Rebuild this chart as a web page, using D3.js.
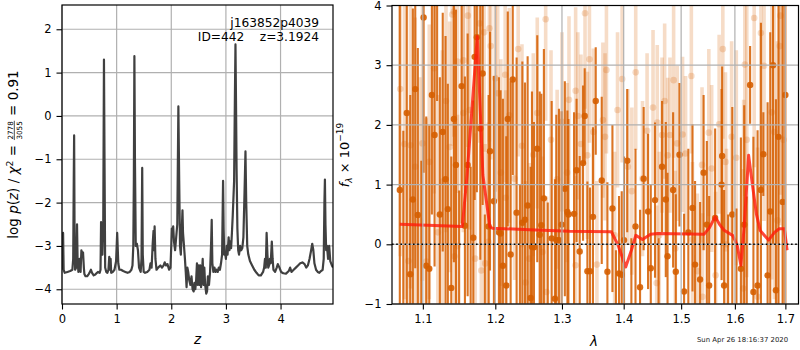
<!DOCTYPE html>
<html><head><meta charset="utf-8">
<script src="https://cdn.jsdelivr.net/npm/d3@7"></script>
<style>body{margin:0;background:#fff}svg{display:block}</style>
</head><body><svg id="c" width="800" height="350"></svg>
<script>
// ---------------- data ----------------
const zGrid = [
0.000,0.010,0.020,0.030,0.050,0.100,0.150,0.190,0.205,0.215,
0.222,0.230,0.240,0.260,0.275,0.285,0.300,0.320,0.340,0.355,
0.370,0.385,0.400,0.410,0.430,0.460,0.490,0.510,0.530,0.550,
0.580,0.610,0.640,0.660,0.690,0.705,0.715,0.725,0.740,0.755,
0.768,0.778,0.790,0.810,0.830,0.850,0.865,0.875,0.890,0.900,
0.930,0.960,0.990,1.010,1.030,1.050,1.080,1.120,1.160,1.200,
1.240,1.270,1.290,1.305,1.315,1.325,1.335,1.350,1.370,1.390,
1.410,1.440,1.455,1.468,1.478,1.495,1.520,1.560,1.600,1.620,
1.640,1.660,1.675,1.685,1.695,1.710,1.730,1.760,1.800,1.830,
1.860,1.880,1.905,1.930,1.960,1.985,2.000,2.010,2.020,2.035,
2.050,2.070,2.090,2.110,2.130,2.145,2.160,2.175,2.190,2.205,
2.215,2.230,2.250,2.265,2.280,2.295,2.310,2.330,2.350,2.370,
2.390,2.410,2.425,2.440,2.455,2.470,2.485,2.500,2.515,2.530,
2.545,2.560,2.575,2.590,2.605,2.620,2.640,2.655,2.670,2.690,
2.710,2.730,2.740,2.752,2.770,2.790,2.810,2.830,2.850,2.870,
2.890,2.910,2.930,2.948,2.958,2.970,2.985,3.000,3.015,3.030,
3.050,3.065,3.080,3.095,3.110,3.125,3.150,3.165,3.175,3.185,
3.195,3.210,3.225,3.240,3.260,3.280,3.300,3.320,3.340,3.358,
3.372,3.390,3.410,3.440,3.480,3.520,3.560,3.600,3.640,3.680,
3.700,3.715,3.730,3.745,3.760,3.775,3.790,3.805,3.820,3.840,
3.855,3.870,3.900,3.930,3.950,3.980,4.010,4.050,4.100,4.150,
4.175,4.200,4.240,4.280,4.320,4.360,4.400,4.440,4.470,4.500,
4.530,4.560,4.580,4.600,4.620,4.650,4.680,4.710,4.740,4.770,
4.790,4.803,4.812,4.822,4.835,4.850,4.870,4.890,4.910,4.940,
4.960];
const logPz = [
-3.55,-3.00,-2.70,-3.55,-3.62,-3.60,-3.58,-3.55,-3.30,-1.50,
-0.45,-2.80,-3.55,-3.50,-2.50,-3.30,-3.60,-3.30,-3.60,-3.10,
-3.20,-3.15,-3.50,-3.65,-3.70,-3.70,-3.65,-3.60,-3.55,-3.62,
-3.68,-3.66,-3.62,-3.60,-3.62,-3.55,-2.45,-3.10,-3.20,-2.50,
1.30,-1.00,-3.50,-3.60,-3.62,-3.55,-3.25,-3.55,-3.30,-3.62,
-3.60,-3.55,-3.35,-2.70,-3.40,-3.55,-3.55,-3.58,-3.60,-3.62,
-3.60,-3.55,-3.45,-3.00,-1.50,1.38,-1.00,-3.00,-2.95,-3.10,
-3.50,-3.60,-3.30,-1.20,-3.20,-3.60,-3.62,-3.60,-3.55,-3.40,
-3.50,-2.95,-2.65,-3.10,-2.55,-3.30,-3.55,-3.50,-3.45,-3.50,
-3.45,-3.38,-3.45,-3.42,-3.55,-3.50,-3.00,-2.60,-2.75,-2.55,
-2.90,-3.10,-2.80,-2.50,0.22,-1.50,-3.00,-3.20,-2.70,-2.18,
-2.70,-2.95,-3.30,-3.60,-3.95,-3.50,-3.60,-3.80,-3.90,-3.70,
-4.00,-4.05,-3.85,-4.00,-3.80,-3.40,-3.90,-3.45,-3.90,-3.45,
-3.95,-3.70,-3.30,-3.90,-3.50,-3.90,-4.10,-4.05,-3.70,-3.90,
-3.60,-2.90,-2.40,-3.40,-3.60,-3.50,-3.60,-3.55,-3.60,-3.50,
-3.55,-3.40,-3.20,-1.50,-2.60,-3.20,-3.15,-3.30,-3.00,-3.20,
-2.80,-3.10,-2.90,-3.05,-2.70,-2.30,-1.50,0.50,1.65,0.30,
-1.20,-2.60,-3.10,-3.20,-3.00,-3.10,-3.05,-2.80,-1.80,-0.82,
-2.00,-3.00,-3.20,-3.35,-3.45,-3.55,-3.62,-3.68,-3.68,-3.60,
-3.50,-3.30,-3.50,-2.70,-3.20,-3.50,-3.45,-3.30,-3.40,-2.90,
-3.30,-3.55,-3.60,-3.50,-3.42,-3.50,-3.60,-3.63,-3.64,-3.58,
-3.50,-3.60,-3.55,-3.50,-3.45,-3.40,-3.38,-3.42,-3.50,-3.45,
-3.30,-3.10,-2.95,-3.10,-3.40,-3.55,-3.60,-3.62,-3.58,-3.55,
-3.30,-2.00,-1.47,-2.50,-3.10,-3.00,-3.30,-3.00,-3.35,-3.45,
-3.50];

const darkWave = [
1.0700,1.0745,1.0790,1.0835,1.0869,1.0900,1.0934,1.0980,1.1010,1.1045,
1.1085,1.1120,1.1156,1.1190,1.1227,1.1266,1.1304,1.1335,1.1382,1.1418,
1.1446,1.1490,1.1524,1.1570,1.1608,1.1650,1.1687,1.1706,1.1737,1.1786,
1.1819,1.1850,1.1904,1.1924,1.1980,1.2052,1.2077,1.2110,1.2159,1.2181,
1.2223,1.2254,1.2311,1.2360,1.2396,1.2435,1.2475,1.2520,1.2540,1.2570,
1.2620,1.2657,1.2682,1.2721,1.2780,1.2840,1.2891,1.2912,1.2953,1.2995,
1.3045,1.3085,1.3101,1.3190,1.3230,1.3280,1.3333,1.3360,1.3403,1.3445,
1.3493,1.3538,1.3636,1.3729,1.3812,1.3870,1.3922,1.3967,1.4006,1.4060,
1.4130,1.4200,1.4278,1.4340,1.4416,1.4463,1.4537,1.4600,1.4660,1.4726,
1.4757,1.4856,1.4904,1.4970,1.5053,1.5130,1.5206,1.5253,1.5345,1.5410,
1.5470,1.5513,1.5625,1.5746,1.5757,1.5794,1.5870,1.5950,1.6030,1.6116,
1.6180,1.6230,1.6295,1.6360,1.6442,1.6508,1.6556,1.6641,1.6694,1.6750,
1.6808,1.6860,1.6945,1.7000];
const darkFlux = [
0.91,-1.6,2.2,-0.5,0.75,2.6,0.49,-1.4,3.8,-0.36,
-0.41,2.5,1.83,4.6,0.50,1.88,1.09,0.59,-0.73,2.10,
1.33,-1.3,2.65,0.31,1.33,-1.2,0.11,3.14,3.47,1.94,
2.86,-1.5,0.30,1.56,0.72,0.20,0.18,-0.36,-0.69,2.10,
-0.17,2.76,0.53,-1.4,0.36,0.41,0.65,-0.90,-0.04,-0.05,
1.6,0.16,0.32,0.77,-1.3,0.10,-0.91,0.07,0.07,0.33,
0.93,0.54,0.50,0.51,1.24,-0.12,1.36,2.15,-0.45,-0.45,
0.46,2.40,1.07,-0.46,0.60,-1.3,-0.49,-0.51,0.07,1.4,
-1.2,0.30,-0.72,1.10,0.55,-0.40,0.74,-1.1,1.30,0.75,
-0.20,0.91,-0.46,1.50,-0.79,0.20,0.61,-0.34,-0.59,1.20,
0.33,-0.69,0.44,1.00,1.48,-0.69,-1.2,0.50,-1.4,-0.41,
0.33,-1.6,2.67,-0.8,-0.69,0.91,1.51,-0.52,0.55,3.0,
-0.77,1.8,0.71,2.5];
const darkErr = [
3.6,3.5,3.4,3.0,3.2,3.0,2.8,2.8,2.6,2.5,
2.4,2.0,2.2,2.2,2.3,2.0,2.4,2.1,2.2,2.4,
2.6,2.2,2.3,2.5,2.2,2.5,2.3,2.4,2.6,2.2,
2.2,2.0,2.2,2.0,2.1,2.6,2.4,2.8,2.5,1.8,
2.9,1.6,2.6,2.4,2.7,2.3,2.5,2.2,2.6,2.1,
1.9,2.4,2.2,2.5,2.0,2.3,2.0,2.1,2.2,1.9,
1.8,1.7,1.6,1.7,1.2,1.6,1.3,0.8,1.5,1.4,
1.5,0.9,1.4,1.5,1.4,1.2,1.3,1.4,1.4,1.2,
1.3,1.3,1.3,1.2,1.3,1.4,1.3,1.2,1.1,1.3,
1.4,1.3,1.3,1.2,1.3,1.4,1.4,1.4,1.3,1.3,
1.4,1.5,1.5,1.6,1.5,1.6,1.7,1.8,2.0,2.2,
2.0,2.4,0.65,2.6,2.6,2.8,0.7,2.9,3.0,3.0,
3.2,3.3,3.5,3.6];

const lightWave = [
1.0705,1.0760,1.0811,1.0838,1.0900,1.0960,1.0995,1.1045,1.1085,1.1150,
1.1200,1.1260,1.1310,1.1360,1.1395,1.1418,1.1426,1.1466,1.1468,1.1548,
1.1550,1.1611,1.1636,1.1713,1.1776,1.1800,1.1840,1.1856,1.1900,1.1915,
1.1934,1.2000,1.2035,1.2080,1.2143,1.2150,1.2204,1.2280,1.2334,1.2390,
1.2443,1.2500,1.2560,1.2620,1.2700,1.2748,1.2760,1.2830,1.2925,1.3000,
1.3080,1.3110,1.3214,1.3215,1.3250,1.3300,1.3365,1.3403,1.3436,1.3500,
1.3557,1.3655,1.3690,1.3713,1.3848,1.3897,1.3974,1.4070,1.4138,1.4204,
1.4320,1.4399,1.4502,1.4566,1.4576,1.4611,1.4660,1.4706,1.4760,1.4800,
1.4865,1.4896,1.4930,1.5026,1.5080,1.5185,1.5206,1.5296,1.5381,1.5390,
1.5507,1.5560,1.5634,1.5700,1.5770,1.5820,1.5840,1.5937,1.6027,1.6160,
1.6169,1.6192,1.6230,1.6375,1.6442,1.6508,1.6570,1.6725,1.6776,1.6840,
1.6887,1.6900,1.6960];
const lightFlux = [
2.60,1.68,-0.28,1.66,1.30,0.40,1.69,-0.29,1.38,2.95,
0.20,1.05,2.40,1.63,3.85,3.90,-0.20,3.06,-0.03,2.20,
3.08,3.83,2.25,-0.24,3.70,-0.44,3.55,-0.32,0.04,3.62,
3.32,2.78,2.53,1.20,2.84,0.78,2.16,1.10,3.27,1.65,
-0.64,-0.24,1.50,2.20,-0.13,3.77,-0.80,1.75,1.09,2.05,
1.20,2.42,-0.35,2.57,2.15,1.68,3.87,1.49,3.10,1.88,
-0.34,2.08,1.80,2.92,0.15,2.25,2.77,1.30,0.89,2.88,
1.10,1.90,2.29,-0.65,2.04,0.15,1.83,2.40,1.49,1.83,
2.75,-0.07,1.69,1.84,1.52,2.82,0.08,-0.45,1.33,-0.88,
1.87,1.27,-0.52,2.01,3.27,1.38,0.00,1.80,1.45,-0.74,
0.32,3.01,1.75,3.79,-0.88,3.54,2.99,2.21,1.88,0.40,
3.32,3.83,1.75];
const lightErr = [
2.8,2.6,2.5,2.4,2.5,2.4,2.3,2.4,2.3,2.1,
2.3,2.2,2.2,2.1,2.2,2.1,2.3,2.2,2.2,2.0,
2.1,2.2,2.0,2.1,2.0,2.1,2.0,2.0,2.0,1.9,
1.9,1.9,1.8,1.9,1.8,1.8,1.8,1.7,1.8,1.7,
1.7,1.6,1.7,1.6,1.6,1.7,1.6,1.5,1.5,1.5,
1.5,1.4,1.5,1.4,1.4,1.5,1.6,1.4,1.4,1.4,
1.4,1.3,1.4,1.4,1.4,1.3,1.4,1.3,1.4,1.3,
1.3,1.3,1.3,1.3,1.3,1.4,1.3,1.3,1.3,1.3,
1.3,1.3,1.3,1.3,1.3,1.3,1.3,1.3,1.3,1.4,
1.4,1.4,1.4,1.5,1.5,1.5,1.6,1.6,1.8,2.0,
2.1,2.2,2.3,2.5,2.5,2.6,2.6,2.8,2.8,3.0,
3.0,3.0,3.2];

const modelWave = [1.0700,1.1534,1.1600,1.1743,1.1822,1.1922,1.1957,1.2500,1.3119,1.3795,
1.3900,1.4034,1.4130,1.4205,1.4319,1.4460,1.4579,1.5420,1.5520,1.5625,
1.5710,1.5794,1.5955,1.6040,1.6116,1.6180,1.6266,1.6340,1.6420,1.6494,
1.6660,1.6780,1.6875,1.6979,1.7035];
const modelFlux = [0.335,0.30,1.16,3.48,1.16,0.29,0.27,0.245,0.22,0.21,
0.0,-0.38,-0.10,0.15,0.08,0.17,0.18,0.17,0.28,0.46,
0.33,0.235,0.15,0.0,-0.35,0.30,1.49,1.00,0.50,0.23,
0.07,0.20,0.26,0.26,-0.10];

const leftXTicks = [0,1,2,3,4];
const leftYTicks = [-4,-3,-2,-1,0,1,2];
const rightXTicks = [1.1,1.2,1.3,1.4,1.5,1.6,1.7];
const rightYTicks = [-1,0,1,2,3,4];
const titleLine1 = "j163852p4039";
const titleLine2 = "ID=442    z=3.1924";
const chiNum = "2778", chiDen = "3055", chiVal = "0.91";
const dateText = "Sun Apr 26 18:16:37 2020";

// ---------------- drawing ----------------
const FONT = '"DejaVu Sans", sans-serif';
const svg = d3.select('#c').attr('font-family', FONT);
const GRID = '#b0b0b0', ORANGE = '#d55e00';

const L = {x0:62, x1:333, y0:5, y1:304};
const R = {x0:392, x1:798.5, y0:5.5, y1:304};

const xL = d3.scaleLinear().domain([0,4.96]).range([L.x0,L.x1]);
const yL = d3.scaleLinear().domain([-4.34,2.56]).range([L.y1,L.y0]);
const xR = d3.scaleLog().domain([1.06,1.727]).range([R.x0,R.x1]);
const yR = d3.scaleLinear().domain([-1,4]).range([R.y1,R.y0]);

const defs = svg.append('defs');
defs.append('clipPath').attr('id','clipL').append('rect')
  .attr('x',L.x0).attr('y',L.y0).attr('width',L.x1-L.x0).attr('height',L.y1-L.y0);
defs.append('clipPath').attr('id','clipR').append('rect')
  .attr('x',R.x0).attr('y',R.y0).attr('width',R.x1-R.x0).attr('height',R.y1-R.y0);

function grid(g, xs, ys, xT, yT, box){
  g.selectAll('line.gx').data(xT).join('line').attr('class','gx')
    .attr('x1',d=>xs(d)).attr('x2',d=>xs(d)).attr('y1',box.y0).attr('y2',box.y1)
    .attr('stroke',GRID).attr('stroke-width',1.2);
  g.selectAll('line.gy').data(yT).join('line').attr('class','gy')
    .attr('y1',d=>ys(d)).attr('y2',d=>ys(d)).attr('x1',box.x0).attr('x2',box.x1)
    .attr('stroke',GRID).attr('stroke-width',1.2);
}
function styleAxis(g){
  g.select('.domain').remove();
  g.attr('font-family',FONT).attr('font-size',11.5);
  g.selectAll('.tick line').attr('stroke','#000').attr('stroke-width',1.1);
  g.selectAll('.tick text').attr('fill','#000');
}

// ---- left panel ----
grid(svg.append('g'), xL, yL, leftXTicks, leftYTicks, L);
const pz = zGrid.map((z,i)=>[z, logPz[i]]);
svg.append('path').datum(pz).attr('clip-path','url(#clipL)')
  .attr('d', d3.line().x(d=>xL(d[0])).y(d=>yL(d[1])))
  .attr('fill','none').attr('stroke','#404040').attr('stroke-width',2.2)
  .attr('stroke-linejoin','round');
svg.append('g').attr('transform',`translate(0,${L.y1})`)
  .call(d3.axisBottom(xL).tickValues(leftXTicks).tickSize(5.5).tickPadding(5).tickSizeOuter(0).tickFormat(d3.format('d')))
  .call(styleAxis);
svg.append('g').attr('transform',`translate(${L.x0},0)`)
  .call(d3.axisLeft(yL).tickValues(leftYTicks).tickSize(5.5).tickPadding(5).tickSizeOuter(0).tickFormat(d3.format('d')))
  .call(styleAxis);
svg.append('rect').attr('x',L.x0).attr('y',L.y0).attr('width',L.x1-L.x0).attr('height',L.y1-L.y0)
  .attr('fill','none').attr('stroke','#000').attr('stroke-width',1.2);

svg.append('text').attr('x',319).attr('y',27).attr('text-anchor','end')
  .attr('font-size',12.2).text(titleLine1);
svg.append('text').attr('x',319).attr('y',41).attr('text-anchor','end')
  .attr('font-size',12.2).style('white-space','pre').text(titleLine2);

// x label z
svg.append('text').attr('x',(L.x0+L.x1)/2).attr('y',344).attr('text-anchor','middle')
  .attr('font-size',13.5).attr('font-style','italic').text('z');

// y label left (rotated, composed)
(function(){
  const g = svg.append('g').attr('transform','translate(18,154.5) rotate(-90)');
  const fs = 13.5, fsF = 7.2;
  const t1 = g.append('text').attr('font-size',fs).attr('x',0).attr('y',0).style('white-space','pre');
  t1.append('tspan').text('log ');
  t1.append('tspan').attr('font-style','italic').text('p');
  t1.append('tspan').text('(');
  t1.append('tspan').attr('font-style','italic').text('z');
  t1.append('tspan').text(') / ');
  t1.append('tspan').attr('font-style','italic').text('χ');
  t1.append('tspan').attr('font-size',fs*0.7).attr('dy',-5).text('2');
  t1.append('tspan').attr('dy',5).text(' = ');
  const w1 = t1.node().getComputedTextLength();
  const num = g.append('text').attr('font-size',fsF).attr('text-anchor','middle').attr('y',-5.2).text(chiNum);
  const den = g.append('text').attr('font-size',fsF).attr('text-anchor','middle').attr('y',3.6).text(chiDen);
  const wf = Math.max(num.node().getComputedTextLength(), den.node().getComputedTextLength()) + 2;
  const t3 = g.append('text').attr('font-size',fs).attr('y',0).style('white-space','pre').text(' = ' + chiVal);
  const w3 = t3.node().getComputedTextLength();
  const total = w1 + wf + w3;
  const x0 = -total/2;
  t1.attr('x', x0);
  num.attr('x', x0 + w1 + wf/2);
  den.attr('x', x0 + w1 + wf/2);
  g.append('line').attr('x1',x0+w1+0.5).attr('x2',x0+w1+wf-0.5).attr('y1',-3.7).attr('y2',-3.7)
    .attr('stroke','#000').attr('stroke-width',0.7);
  t3.attr('x', x0 + w1 + wf);
})();

// ---- right panel ----
const pr = svg.append('g').attr('clip-path','url(#clipR)');
const light = lightWave.map((w,i)=>({w, f:lightFlux[i], e:lightErr[i]}));
const dark = darkWave.map((w,i)=>({w, f:darkFlux[i], e:darkErr[i]}));

const gl = pr.append('g');
gl.selectAll('line').data(light).join('line')
  .attr('x1',d=>xR(d.w)).attr('x2',d=>xR(d.w))
  .attr('y1',d=>yR(d.f-d.e)).attr('y2',d=>yR(d.f+d.e))
  .attr('stroke',ORANGE).attr('stroke-opacity',0.22).attr('stroke-width',3.6);
gl.selectAll('circle').data(light).join('circle')
  .attr('cx',d=>xR(d.w)).attr('cy',d=>yR(d.f)).attr('r',3.3)
  .attr('fill',ORANGE).attr('fill-opacity',0.22);

const gd = pr.append('g');
gd.selectAll('line').data(dark).join('line')
  .attr('x1',d=>xR(d.w)).attr('x2',d=>xR(d.w))
  .attr('y1',d=>yR(d.f-d.e)).attr('y2',d=>yR(d.f+d.e))
  .attr('stroke',ORANGE).attr('stroke-opacity',0.86).attr('stroke-width',2.1);
gd.selectAll('circle').data(dark).join('circle')
  .attr('cx',d=>xR(d.w)).attr('cy',d=>yR(d.f)).attr('r',3.2)
  .attr('fill',ORANGE).attr('fill-opacity',0.9);

const model = modelWave.map((w,i)=>[w, modelFlux[i]]);
pr.append('path').datum(model)
  .attr('d', d3.line().x(d=>xR(d[0])).y(d=>yR(d[1])))
  .attr('fill','none').attr('stroke','#ff1a0a').attr('stroke-opacity',0.8)
  .attr('stroke-width',3).attr('stroke-linejoin','round');

grid(svg.append('g'), xR, yR, rightXTicks, rightYTicks, R);

svg.append('line').attr('x1',R.x0).attr('x2',R.x1).attr('y1',yR(0)).attr('y2',yR(0))
  .attr('stroke','#000').attr('stroke-width',1.6).attr('stroke-dasharray','1.6 2.6');

svg.append('g').attr('transform',`translate(0,${R.y1})`)
  .call(d3.axisBottom(xR).tickValues(rightXTicks).tickSize(5.5).tickPadding(5).tickSizeOuter(0).tickFormat(d3.format('.1f')))
  .call(styleAxis);
svg.append('g').attr('transform',`translate(${R.x0},0)`)
  .call(d3.axisLeft(yR).tickValues(rightYTicks).tickSize(5.5).tickPadding(5).tickSizeOuter(0).tickFormat(d3.format('d')))
  .call(styleAxis);
svg.append('rect').attr('x',R.x0).attr('y',R.y0).attr('width',R.x1-R.x0).attr('height',R.y1-R.y0)
  .attr('fill','none').attr('stroke','#000').attr('stroke-width',1.2);

// x label lambda
svg.append('text').attr('x',594).attr('y',346).attr('text-anchor','middle')
  .attr('font-size',13.5).attr('font-style','italic').text('λ');

// y label right
(function(){
  const g = svg.append('g').attr('transform','translate(349,155) rotate(-90)');
  const t = g.append('text').attr('font-size',13).attr('text-anchor','middle').style('white-space','pre');
  t.append('tspan').attr('font-style','italic').text('f');
  t.append('tspan').attr('font-style','italic').attr('font-size',9).attr('dy',3).text('λ');
  t.append('tspan').attr('dy',-3).text(' × 10');
  t.append('tspan').attr('font-size',9).attr('dy',-6).text('−19');
})();

svg.append('text').attr('x',697).attr('y',342).attr('font-size',6.9).attr('fill','#222').text(dateText);
</script>
</body></html>
